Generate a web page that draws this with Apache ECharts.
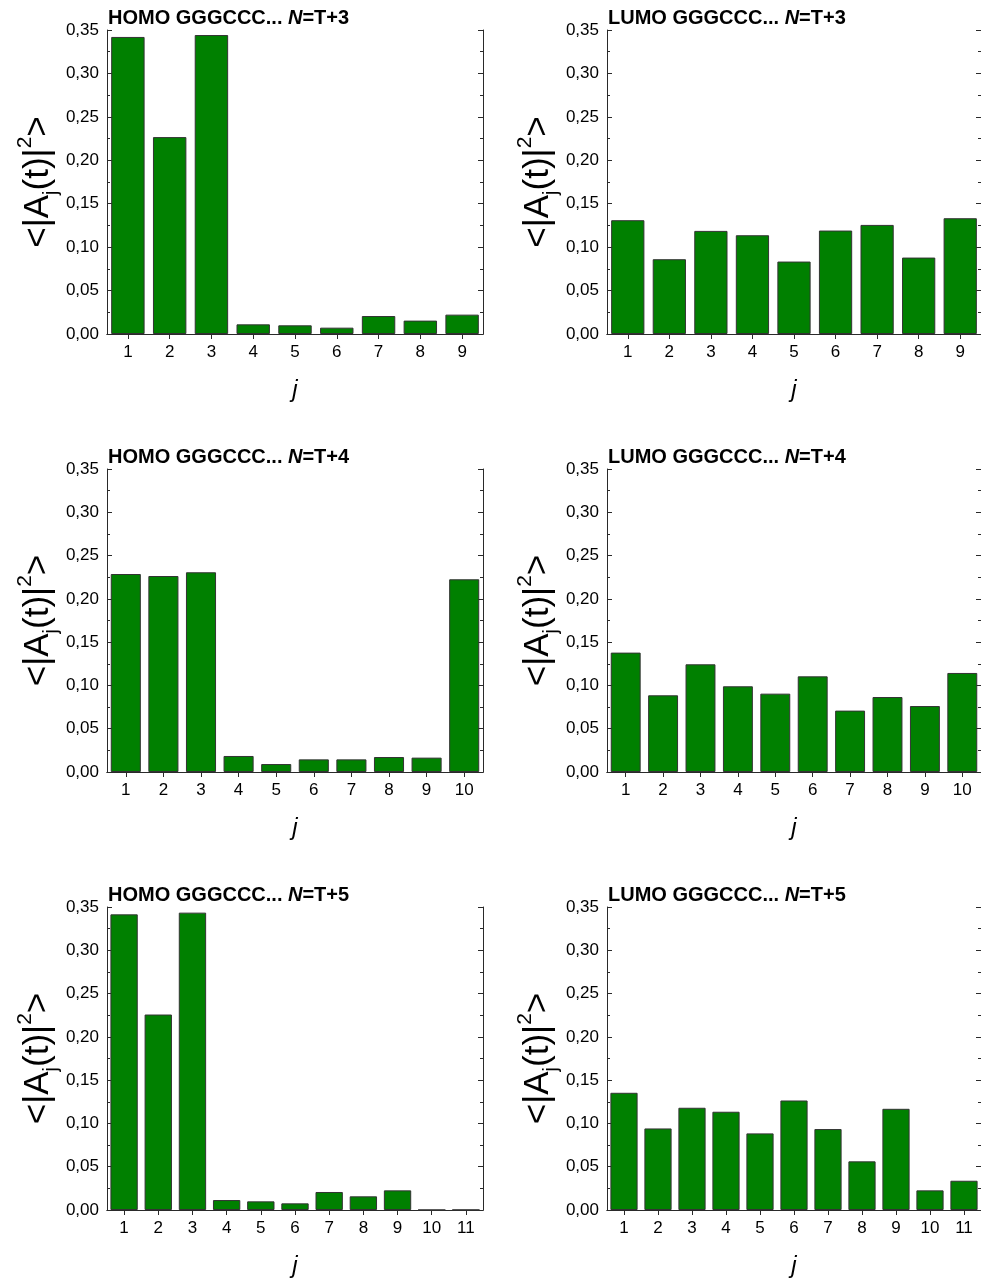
<!DOCTYPE html>
<html>
<head>
<meta charset="utf-8">
<script src="https://cdn.jsdelivr.net/npm/echarts@6/dist/echarts.min.js"></script>
<style>
  html, body { margin: 0; padding: 0; background: #fff; }
  #chart { width: 981px; height: 1279px; }
</style>
</head>
<body>
<div id="chart"></div>
<script>
// Site index j for each chain length
const sites9  = ['1', '2', '3', '4', '5', '6', '7', '8', '9'];
const sites10 = ['1', '2', '3', '4', '5', '6', '7', '8', '9', '10'];
const sites11 = ['1', '2', '3', '4', '5', '6', '7', '8', '9', '10', '11'];

// Time-averaged occupation probabilities <|A_j(t)|^2>
const homoT3 = [0.342, 0.2267, 0.3442, 0.0111, 0.0100, 0.0073, 0.0207, 0.0154, 0.0223];
const lumoT3 = [0.1310, 0.0861, 0.1187, 0.1137, 0.0834, 0.1191, 0.1256, 0.0880, 0.1333];
const homoT4 = [0.2287, 0.2264, 0.2307, 0.0185, 0.0092, 0.0146, 0.0146, 0.0173, 0.0166, 0.2226];
const lumoT4 = [0.1379, 0.0886, 0.1244, 0.0990, 0.0905, 0.1105, 0.0709, 0.0866, 0.0762, 0.1144];
const homoT5 = [0.3415, 0.2258, 0.3435, 0.0115, 0.0100, 0.0077, 0.0208, 0.0158, 0.0227, 0.0001, 0.0002];
const lumoT5 = [0.1354, 0.0942, 0.1181, 0.1135, 0.0885, 0.1265, 0.0935, 0.0562, 0.1169, 0.0227, 0.0338];

// Y tick values
const yMin = 0, yMax = 0.35, yStep = 0.05;

const panels = [
  { orbital: 'HOMO', n: 'T+3', cats: sites9,  values: homoT3, left: 107, top: 30,  height: 304 },
  { orbital: 'LUMO', n: 'T+3', cats: sites9,  values: lumoT3, left: 607, top: 30,  height: 304 },
  { orbital: 'HOMO', n: 'T+4', cats: sites10, values: homoT4, left: 107, top: 469, height: 303 },
  { orbital: 'LUMO', n: 'T+4', cats: sites10, values: lumoT4, left: 607, top: 469, height: 303 },
  { orbital: 'HOMO', n: 'T+5', cats: sites11, values: homoT5, left: 107, top: 907, height: 303 },
  { orbital: 'LUMO', n: 'T+5', cats: sites11, values: lumoT5, left: 607, top: 907, height: 303 }
];

const FONT = 'Liberation Sans, Arial, sans-serif';
const AX = '#2a2a2a';
const PLOT_W = 376;

const option = {
  animation: false,
  backgroundColor: '#ffffff',
  title: [], grid: [], xAxis: [], yAxis: [], series: []
};

panels.forEach((p, i) => {
  option.title.push({
    text: p.orbital + ' GGGCCC... {i|N}=' + p.n,
    left: p.left + 1,
    top: p.top - 22,
    padding: 0,
    textStyle: {
      fontFamily: FONT, fontSize: 20, fontWeight: 'bold', color: '#000',
      rich: { i: { fontFamily: FONT, fontSize: 20, fontWeight: 'bold', fontStyle: 'italic', color: '#000' } }
    }
  });

  option.grid.push({ left: p.left, top: p.top, width: PLOT_W, height: p.height, containLabel: false });

  // bottom category axis with labels
  option.xAxis.push({
    type: 'category', gridIndex: i, position: 'bottom', data: p.cats,
    name: 'j', nameLocation: 'middle', nameGap: 44,
    nameTextStyle: { fontFamily: FONT, fontSize: 24, fontStyle: 'italic', color: '#000' },
    axisLine: { show: true, lineStyle: { color: AX, width: 1 } },
    axisTick: { show: true, inside: false, length: 5, alignWithLabel: true, lineStyle: { color: AX } },
    axisLabel: { fontFamily: FONT, fontSize: 17, color: '#000', margin: 10 },
    splitLine: { show: false }
  });
  // top mirror axis
  option.xAxis.push({
    type: 'category', gridIndex: i, position: 'top', data: p.cats,
    axisLine: { show: true, lineStyle: { color: AX, width: 1 } },
    axisTick: { show: true, inside: true, length: 5, alignWithLabel: true, lineStyle: { color: AX } },
    axisLabel: { show: false }, splitLine: { show: false }
  });

  // left value axis
  option.yAxis.push({
    type: 'value', gridIndex: i, position: 'left', min: yMin, max: yMax, interval: yStep,
    name: '{b|<|A}{s|j}{b|(t)|}{p|2}{b|>}',
    nameLocation: 'middle', nameGap: 46,
    nameTextStyle: {
      fontFamily: FONT, color: '#000',
      rich: {
        b: { fontFamily: FONT, fontSize: 35, color: '#000', lineHeight: 46, verticalAlign: 'middle' },
        s: { fontFamily: FONT, fontSize: 20, color: '#000', lineHeight: 46, verticalAlign: 'bottom' },
        p: { fontFamily: FONT, fontSize: 21, color: '#000', lineHeight: 46, verticalAlign: 'top' }
      }
    },
    axisLine: { show: true, lineStyle: { color: AX, width: 1 } },
    axisTick: { show: true, inside: true, length: 5, lineStyle: { color: AX } },
    minorTick: { show: true, splitNumber: 2, length: 3, lineStyle: { color: AX } },
    axisLabel: {
      fontFamily: FONT, fontSize: 17, color: '#000', margin: 8,
      formatter: v => v.toFixed(2).replace('.', ',')
    },
    splitLine: { show: false }, minorSplitLine: { show: false }
  });
  // right mirror axis
  option.yAxis.push({
    type: 'value', gridIndex: i, position: 'right', min: yMin, max: yMax, interval: yStep,
    axisLine: { show: true, lineStyle: { color: AX, width: 1 } },
    axisTick: { show: true, inside: true, length: 5, lineStyle: { color: AX } },
    minorTick: { show: true, splitNumber: 2, length: 3, lineStyle: { color: AX } },
    axisLabel: { show: false }, splitLine: { show: false }
  });

  option.series.push({
    type: 'bar', xAxisIndex: 2 * i, yAxisIndex: 2 * i, data: p.values,
    barCategoryGap: '20%',
    itemStyle: { color: '#008000', borderColor: '#333333', borderWidth: 1 },
    emphasis: { disabled: true }
  });
});

const chart = echarts.init(document.getElementById('chart'), null, { renderer: 'canvas' });
chart.setOption(option);
</script>
</body>
</html>
